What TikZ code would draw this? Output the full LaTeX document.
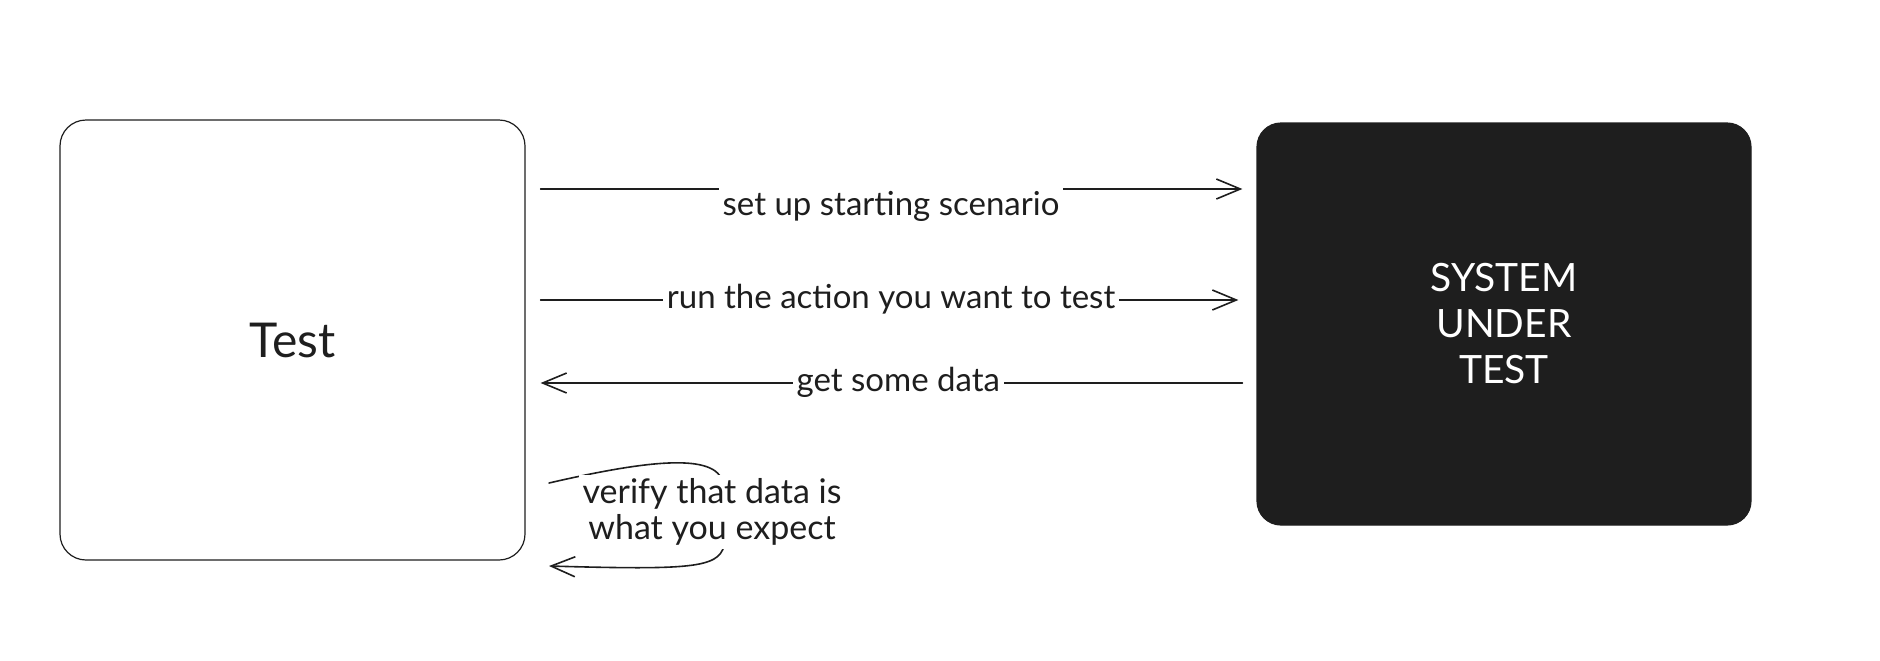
\documentclass[tikz,border=0pt]{standalone}
\usepackage{fontspec}
\setmainfont{Lato}
\usetikzlibrary{arrows.meta}
\definecolor{ink}{HTML}{1E1E1E}
\begin{document}
\begin{tikzpicture}
[x=0.5pt,y=-0.5pt,%
  every node/.style={text=ink},%
  box/.style={draw=ink,line width=0.6pt,inner sep=0pt},%
  msg/.style={draw=ink,line width=0.8pt,line cap=round,
    -{Straight Barb[length=12pt,width=10pt,line width=0.8pt]}},%
  lbl/.style={fill=white,inner sep=2pt,text height=12pt,text depth=4pt,
    font=\fontsize{16.5}{19}\selectfont},%
  note/.style={fill=white,inner sep=2pt,align=center,
    font=\fontsize{17}{18}\selectfont}]
\useasboundingbox (0,0) rectangle (1880,660);
\node[box,rounded corners=13pt,minimum width=232.5pt,minimum height=220pt,
  font=\fontsize{24}{28}\selectfont] (test) at (292.5,340) {Test};
\node[box,rounded corners=12pt,fill=ink,text=white,minimum width=247pt,
  minimum height=201pt,align=center,
  font=\fontsize{19.5}{23}\selectfont] (sut) at (1504,324) {SYSTEM\\UNDER\\TEST};
\coordinate (r1) at (0,189);
\coordinate (r2) at (0,300);
\coordinate (r3) at (0,383);
\draw[msg,shorten <=7.5pt,shorten >=7pt] (test.east |- r1) -- 
  node[lbl,yshift=-9pt] (setup) {set up starting scenario} (sut.west |- r1);
\draw[msg,shorten <=7.5pt,shorten >=9pt] (test.east |- r2) -- 
  node[lbl] (run) {run the action you want to test} (sut.west |- r2);
\draw[msg,shorten <=7pt,shorten >=7.5pt] (sut.west |- r3) -- 
  node[lbl,pos=0.49] (get) {get some data} (test.east |- r3);
% check the result
\coordinate (v1) at (549,483);
\coordinate (v2) at (549,566);
\draw[msg] (v1) .. controls (640,462) and (712,452) .. (722,480) -- (724,546)
  .. controls (718,568) and (690,570) .. (v2);
\node[note] (verify) at (712,512) {verify that data is\\what you expect};
\end{tikzpicture}
\end{document}
